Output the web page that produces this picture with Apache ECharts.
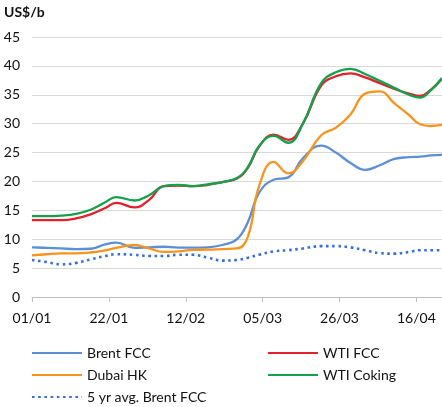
<!DOCTYPE html>
<html>
<head>
<meta charset="utf-8">
<script src="https://cdn.jsdelivr.net/npm/echarts@6/dist/echarts.min.js"></script>
<style>
  html, body { margin: 0; padding: 0; background: #fff; }
  #main { width: 442px; height: 407px; }
</style>
</head>
<body>
<div id="main"></div>
<script>
// days since 01/01
const days = [0, 4, 8, 12, 16, 20, 23, 28, 32, 36, 40, 44, 48, 52, 56, 59, 62, 66, 70, 74, 79, 83, 87, 91, 95, 99, 103, 106, 109, 112];

const brentFcc = [8.6, 8.5, 8.4, 8.3, 8.35, 9.1, 9.4, 8.5, 8.6, 8.7, 8.55, 8.55, 8.6, 9.0, 10.0, 13.0, 18.0, 20.3, 20.7, 24.0, 26.2, 25.0, 23.2, 22.0, 22.8, 23.9, 24.2, 24.3, 24.5, 24.6];
const wtiFcc = [13.3, 13.3, 13.3, 13.6, 14.3, 15.4, 16.3, 15.5, 16.8, 19.2, 19.3, 19.2, 19.4, 19.9, 20.5, 22.4, 26.0, 28.1, 27.2, 30.0, 36.6, 38.2, 38.7, 38.0, 37.0, 36.0, 35.2, 34.8, 35.9, 37.8];
const dubaiHk = [7.2, 7.4, 7.55, 7.55, 7.7, 8.05, 8.5, 9.0, 8.4, 7.8, 7.9, 8.15, 8.2, 8.3, 8.4, 10.5, 19.1, 23.4, 21.4, 23.5, 28.0, 29.3, 31.6, 35.2, 35.6, 33.5, 31.5, 29.9, 29.6, 29.8];
const wtiCoking = [14.0, 14.0, 14.1, 14.4, 15.1, 16.4, 17.3, 16.7, 17.6, 19.2, 19.4, 19.2, 19.5, 19.9, 20.6, 22.5, 26.1, 27.9, 26.7, 30.0, 37.0, 38.9, 39.5, 38.6, 37.4, 36.2, 35.0, 34.5, 35.8, 37.9];
const brentFcc5yr = [6.4, 6.05, 5.65, 5.9, 6.5, 7.1, 7.4, 7.3, 7.1, 7.1, 7.3, 7.3, 6.8, 6.3, 6.4, 6.8, 7.3, 7.9, 8.1, 8.4, 8.8, 8.8, 8.6, 8.1, 7.6, 7.5, 7.8, 8.1, 8.1, 8.1];

const tickDays = [0, 21, 42, 63, 84, 105];
const tickLabels = ['01/01', '22/01', '12/02', '05/03', '26/03', '16/04'];

const font = 'Lato, "Noto Sans", sans-serif';

function pairs(vals) {
  return days.map((d, i) => [d, vals[i]]);
}

function line(name, vals, color, dotted) {
  return {
    name: name,
    type: 'line',
    data: pairs(vals),
    smooth: 0.45,
    symbol: 'none',
    lineStyle: dotted
      ? { color: color, width: 2.6, type: [2.6, 3.6], cap: 'butt' }
      : { color: color, width: 2.3 },
    itemStyle: { color: color }
  };
}

// legend: line only, no marker
const legendBase = {
  orient: 'vertical',
  top: 346,
  padding: 0,
  itemGap: 8,
  itemWidth: 50,
  itemHeight: 14,
  itemStyle: { opacity: 0 },
  textStyle: { fontFamily: font, fontSize: 14, color: '#111' }
};

const chart = echarts.init(document.getElementById('main'));
const option = {
  animation: false,
  title: {
    text: 'US$/b',
    left: 4,
    top: 5,
    padding: 0,
    textStyle: { fontFamily: font, fontSize: 14, fontWeight: 'bold', color: '#111' }
  },
  legend: [
    Object.assign({}, legendBase, { data: ['Brent FCC', 'Dubai HK', '5 yr avg. Brent FCC'], left: 31 }),
    Object.assign({}, legendBase, { data: ['WTI FCC', 'WTI Coking'], left: 267 })
  ],
  grid: { left: 32, right: 0, top: 37, bottom: 110 },
  xAxis: {
    type: 'value',
    min: 0,
    max: 112,
    interval: 21,
    axisLine: { lineStyle: { color: '#bfbfbf', width: 1 } },
    axisTick: { show: true, length: 5, customValues: tickDays, lineStyle: { color: '#bfbfbf' } },
    axisLabel: {
      customValues: tickDays,
      margin: 14,
      fontFamily: font,
      fontSize: 14,
      color: '#111',
      formatter: v => tickLabels[tickDays.indexOf(v)] || ''
    },
    splitLine: { show: false }
  },
  yAxis: {
    type: 'value',
    min: 0,
    max: 45,
    interval: 5,
    axisLine: { show: false },
    axisTick: { show: false },
    axisLabel: { margin: 12, fontFamily: font, fontSize: 14, color: '#111' },
    splitLine: { lineStyle: { color: '#d9d9d9', width: 1 } }
  },
  series: [
    line('Brent FCC', brentFcc, '#5b8fd8'),
    line('WTI FCC', wtiFcc, '#e3202b'),
    line('Dubai HK', dubaiHk, '#f7941d'),
    line('WTI Coking', wtiCoking, '#13a14b'),
    line('5 yr avg. Brent FCC', brentFcc5yr, '#3a6fd8', true)
  ]
};
chart.setOption(option);
</script>
</body>
</html>
